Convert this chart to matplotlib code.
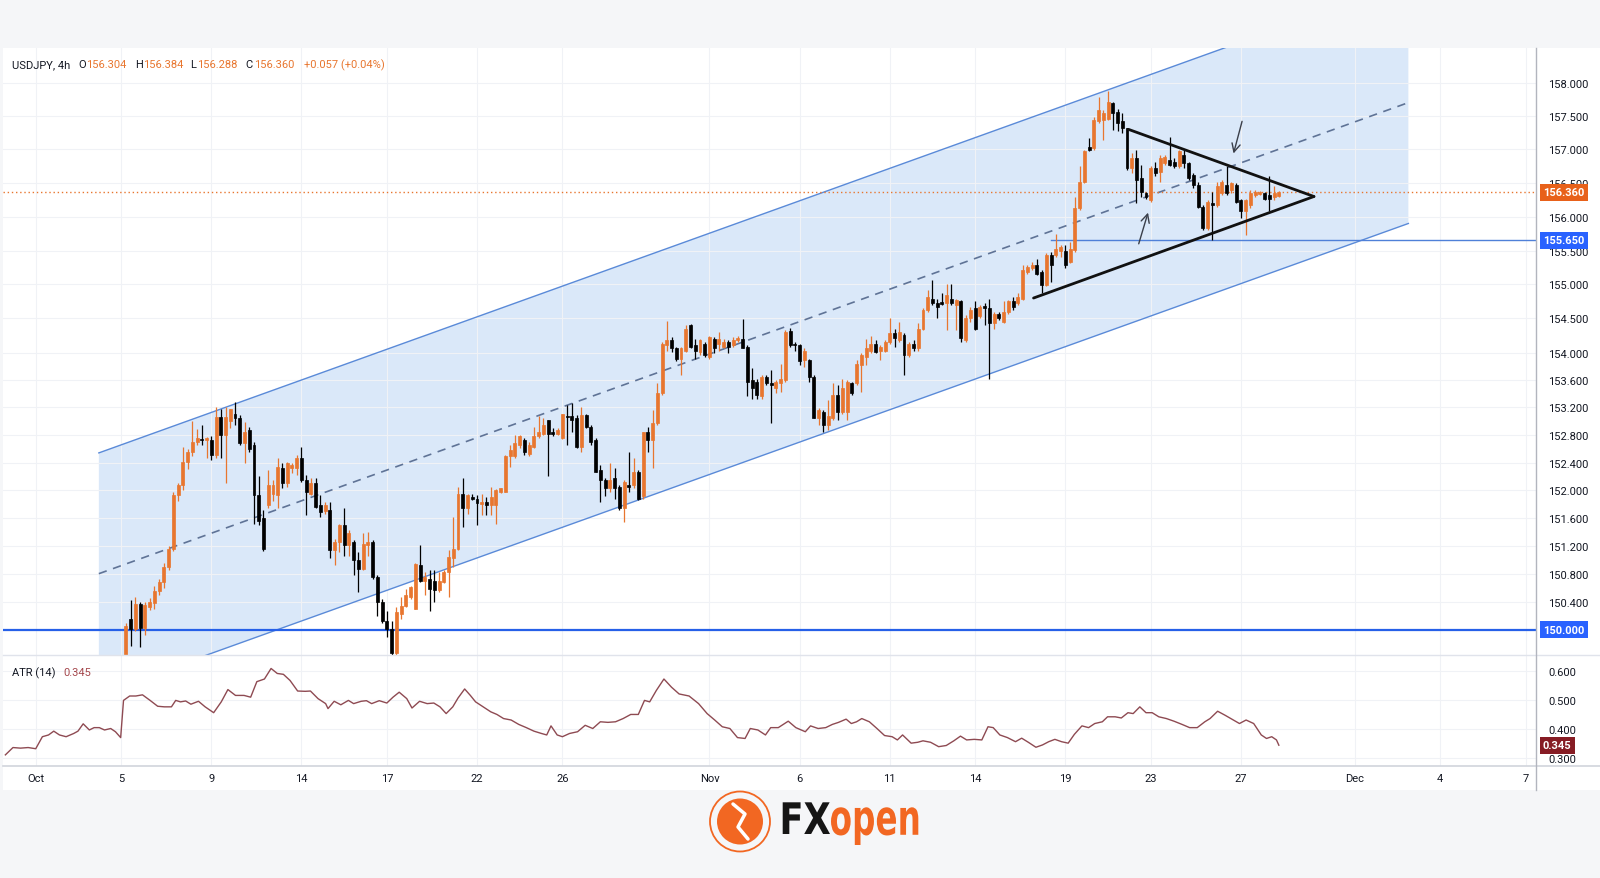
import datetime as dt
import numpy as np
import matplotlib
matplotlib.use("Agg")
import matplotlib.pyplot as plt
from matplotlib.ticker import FixedLocator, NullLocator, FuncFormatter
from matplotlib.patches import Polygon, Circle, Rectangle, PathPatch
from matplotlib.lines import Line2D
from matplotlib.textpath import TextPath
from matplotlib.font_manager import FontProperties
from matplotlib.transforms import Affine2D, IdentityTransform

plt.rcParams['font.family'] = ['Roboto', 'DejaVu Sans']

# ---- data: USDJPY 4h candles, first one is the Sunday 5 Oct bar ----
first_candle = "2025-10-05 20:00"
opens = [
    149.10, 149.45, 150.15, 150.01, 150.37, 150.02, 150.33, 150.38, 150.55, 150.68,
    150.90, 151.16, 151.93, 152.08, 152.41, 152.56, 152.70, 152.74, 152.72, 152.73,
    152.51, 153.06, 152.80, 153.00, 153.10, 153.04, 152.68, 152.87, 152.65, 151.93,
    151.60, 151.79, 151.95, 151.93, 152.32, 152.10, 152.32, 152.32, 152.46, 152.15,
    151.95, 152.10, 151.78, 151.70, 151.71, 151.14, 151.26, 151.50, 151.21, 151.26,
    150.99, 150.87, 151.21, 151.26, 150.75, 150.39, 150.13, 150.01, 149.67, 150.22,
    150.34, 150.46, 150.30, 150.92, 150.70, 150.73, 150.70, 150.56, 150.68, 150.82,
    151.02, 151.16, 151.95, 151.74, 151.90, 151.88, 151.80, 151.83, 151.78, 151.78,
    151.98, 151.98, 152.49, 152.49, 152.66, 152.73, 152.53, 152.63, 152.78, 152.82,
    153.02, 152.85, 152.82, 152.75, 153.08, 153.07, 153.04, 152.63, 153.09, 152.92,
    152.73, 152.29, 152.15, 152.03, 152.17, 152.05, 151.74, 152.07, 152.07, 152.27,
    151.91, 152.85, 152.73, 152.97, 153.41, 154.11, 154.18, 154.06, 153.91, 154.03,
    154.40, 154.11, 154.01, 154.13, 153.94, 154.20, 154.13, 154.08, 154.16, 154.11,
    154.18, 154.20, 154.08, 153.60, 153.57, 153.36, 153.65, 153.55, 153.48, 153.55,
    153.60, 154.31, 154.13, 154.11, 153.89, 153.89, 153.65, 153.04, 153.14, 152.95,
    153.04, 153.38, 153.14, 153.14, 153.55, 153.55, 153.82, 153.94, 154.03, 154.13,
    154.03, 154.03, 154.16, 154.28, 154.18, 154.26, 153.96, 154.13, 154.06, 154.35,
    154.62, 154.79, 154.72, 154.74, 154.72, 154.79, 154.70, 154.75, 154.18, 154.50,
    154.65, 154.53, 154.69, 154.65, 154.43, 154.57, 154.45, 154.60, 154.75, 154.72,
    154.79, 155.19, 155.24, 155.28, 155.19, 154.99, 155.43, 155.43, 155.50, 155.50,
    155.33, 155.51, 156.13, 156.52, 157.04, 157.02, 157.42, 157.44, 157.46, 157.69,
    157.56, 157.42, 157.32, 156.72, 156.87, 156.57, 156.35, 156.25, 156.72, 156.67,
    156.80, 156.84, 156.82, 156.75, 156.92, 156.80, 156.62, 156.47, 156.15, 155.83,
    156.20, 156.18, 156.35, 156.47, 156.40, 156.47, 156.25, 156.08, 156.18, 156.32,
    156.34, 156.35, 156.32, 156.30, 156.304,
]
highs = [
    149.55, 150.10, 150.43, 150.47, 150.40, 150.40, 150.45, 150.63, 150.72, 150.95,
    151.20, 151.98, 152.10, 152.63, 152.60, 153.01, 152.89, 152.94, 152.77, 152.78,
    153.21, 153.18, 153.21, 153.18, 153.28, 153.09, 152.99, 152.92, 152.70, 152.20,
    151.72, 152.29, 152.15, 152.46, 152.39, 152.41, 152.40, 152.51, 152.63, 152.22,
    152.17, 152.17, 151.93, 151.83, 151.83, 151.30, 151.52, 151.74, 151.42, 151.28,
    151.11, 151.38, 151.40, 151.28, 150.78, 150.44, 150.27, 150.13, 150.32, 150.46,
    150.58, 150.63, 150.96, 151.21, 150.82, 150.85, 150.85, 150.82, 150.85, 151.14,
    151.62, 152.05, 152.17, 151.95, 151.95, 151.93, 151.95, 151.90, 152.05, 152.02,
    152.03, 152.51, 152.66, 152.80, 152.80, 152.75, 152.70, 152.92, 153.07, 153.04,
    153.02, 152.90, 152.90, 153.11, 153.24, 153.26, 153.09, 153.21, 153.11, 152.95,
    152.75, 152.36, 152.17, 152.39, 152.32, 152.07, 152.15, 152.56, 152.46, 152.29,
    152.85, 152.92, 153.16, 153.55, 154.16, 154.47, 154.23, 154.08, 154.08, 154.40,
    154.42, 154.20, 154.20, 154.16, 154.25, 154.23, 154.30, 154.20, 154.18, 154.23,
    154.25, 154.49, 154.11, 153.77, 153.62, 153.67, 153.67, 153.74, 153.60, 153.84,
    154.33, 154.36, 154.16, 154.13, 154.06, 153.91, 153.67, 153.19, 153.16, 153.31,
    153.55, 153.53, 153.62, 153.60, 153.57, 153.89, 153.99, 154.20, 154.25, 154.18,
    154.11, 154.18, 154.50, 154.35, 154.45, 154.28, 154.16, 154.18, 154.43, 154.65,
    154.92, 155.06, 154.79, 154.87, 155.01, 155.01, 154.79, 154.77, 154.55, 154.67,
    154.75, 154.70, 154.72, 154.79, 154.60, 154.60, 154.75, 154.77, 154.82, 154.87,
    155.28, 155.28, 155.33, 155.38, 155.21, 155.46, 155.48, 155.75, 155.58, 155.58,
    155.63, 156.30, 156.75, 156.99, 157.17, 157.49, 157.79, 157.59, 157.87, 157.71,
    157.61, 157.54, 157.32, 156.94, 156.99, 156.77, 156.37, 156.75, 156.82, 156.92,
    156.92, 157.19, 156.87, 156.99, 156.99, 156.82, 156.65, 156.52, 156.18, 156.25,
    156.37, 156.52, 156.55, 156.76, 156.52, 156.50, 156.27, 156.27, 156.40, 156.40,
    156.38, 156.37, 156.60, 156.45, 156.384,
]
lows = [
    148.95, 149.40, 149.77, 149.98, 149.75, 149.93, 150.28, 150.30, 150.50, 150.60,
    150.85, 151.12, 151.85, 152.00, 152.30, 152.50, 152.65, 152.65, 152.46, 152.44,
    152.46, 152.46, 152.10, 152.90, 152.94, 152.65, 152.39, 152.56, 151.52, 151.50,
    151.12, 151.74, 151.85, 151.74, 152.03, 152.05, 152.25, 152.22, 152.12, 151.64,
    151.93, 151.74, 151.62, 151.66, 151.02, 150.92, 151.11, 151.06, 151.06, 150.78,
    150.54, 150.85, 151.06, 150.73, 150.20, 150.10, 149.89, 149.62, 149.62, 150.15,
    150.32, 150.44, 150.30, 150.68, 150.49, 150.27, 150.39, 150.54, 150.66, 150.46,
    150.90, 151.14, 151.47, 151.66, 151.86, 151.50, 151.64, 151.64, 151.64, 151.52,
    151.96, 151.98, 152.34, 152.46, 152.61, 152.51, 152.49, 152.61, 152.75, 152.80,
    152.20, 152.78, 152.80, 152.74, 152.66, 152.85, 152.61, 152.56, 152.90, 152.66,
    152.27, 151.83, 151.91, 151.98, 151.88, 151.71, 151.54, 151.98, 152.03, 151.86,
    151.88, 152.56, 152.32, 152.95, 153.38, 154.03, 154.01, 153.87, 153.67, 154.01,
    154.06, 153.91, 153.96, 153.94, 153.91, 153.99, 154.03, 154.06, 153.99, 154.08,
    154.16, 154.06, 153.36, 153.33, 153.33, 153.33, 153.53, 152.97, 153.41, 153.43,
    153.57, 154.08, 154.03, 153.82, 153.79, 153.57, 153.04, 152.95, 152.85, 152.87,
    153.02, 153.02, 153.11, 153.02, 153.38, 153.53, 153.43, 153.82, 153.99, 153.99,
    153.89, 154.01, 154.13, 154.08, 154.16, 153.67, 153.94, 154.03, 154.03, 154.33,
    154.60, 154.70, 154.50, 154.70, 154.33, 154.70, 154.33, 154.16, 154.16, 154.45,
    154.33, 154.50, 154.40, 153.62, 154.35, 154.48, 154.43, 154.57, 154.62, 154.70,
    154.77, 155.16, 155.21, 155.14, 154.87, 154.97, 155.04, 155.41, 155.41, 155.24,
    155.31, 155.48, 156.10, 156.50, 156.97, 156.99, 157.39, 157.14, 157.44, 157.29,
    157.27, 157.24, 156.70, 156.65, 156.20, 156.30, 156.27, 156.22, 156.60, 156.52,
    156.77, 156.75, 156.72, 156.72, 156.72, 156.55, 156.42, 156.13, 155.80, 155.80,
    155.65, 156.15, 156.32, 156.32, 156.35, 156.20, 155.98, 155.73, 156.13, 156.30,
    156.32, 156.25, 156.08, 156.25, 156.288,
]
closes = [
    149.45, 150.05, 150.01, 150.37, 150.02, 150.35, 150.40, 150.55, 150.68, 150.90,
    151.16, 151.93, 152.08, 152.41, 152.56, 152.70, 152.75, 152.72, 152.75, 152.51,
    153.06, 152.80, 153.06, 153.18, 153.05, 152.68, 152.85, 152.60, 151.93, 151.55,
    151.15, 152.08, 152.08, 152.34, 152.10, 152.39, 152.37, 152.46, 152.15, 151.98,
    152.10, 151.76, 151.69, 151.78, 151.14, 151.26, 151.50, 151.21, 151.38, 150.99,
    150.87, 151.23, 151.26, 150.75, 150.39, 150.13, 150.01, 149.67, 150.25, 150.34,
    150.49, 150.61, 150.94, 150.70, 150.75, 150.58, 150.56, 150.70, 150.82, 151.04,
    151.16, 151.95, 151.74, 151.93, 151.88, 151.81, 151.83, 151.78, 151.90, 152.00,
    152.03, 152.49, 152.58, 152.68, 152.78, 152.56, 152.66, 152.78, 152.85, 152.95,
    152.82, 152.82, 152.87, 153.10, 153.06, 153.02, 152.63, 153.09, 152.92, 152.70,
    152.27, 152.15, 152.03, 152.15, 152.03, 151.74, 152.12, 152.05, 152.27, 151.88,
    152.85, 152.73, 152.97, 153.41, 154.13, 154.18, 154.06, 153.91, 154.06, 154.35,
    154.08, 154.03, 154.18, 153.96, 154.23, 154.06, 154.20, 154.16, 154.08, 154.18,
    154.21, 154.07, 153.57, 153.48, 153.38, 153.65, 153.55, 153.53, 153.57, 153.62,
    154.30, 154.11, 154.11, 153.87, 154.03, 153.65, 153.04, 153.16, 152.95, 153.07,
    153.38, 153.14, 153.48, 153.57, 153.41, 153.84, 153.96, 154.06, 154.13, 154.01,
    154.08, 154.16, 154.28, 154.21, 154.30, 153.96, 154.13, 154.06, 154.35, 154.62,
    154.82, 154.72, 154.67, 154.71, 154.84, 154.72, 154.77, 154.21, 154.50, 154.62,
    154.35, 154.67, 154.66, 154.43, 154.57, 154.50, 154.60, 154.75, 154.67, 154.82,
    155.21, 155.26, 155.28, 155.16, 154.99, 155.43, 155.28, 155.53, 155.55, 155.28,
    155.53, 156.13, 156.52, 156.97, 156.99, 157.44, 157.59, 157.54, 157.71, 157.54,
    157.39, 157.32, 156.72, 156.87, 156.55, 156.37, 156.30, 156.72, 156.65, 156.87,
    156.89, 156.77, 156.75, 156.97, 156.80, 156.57, 156.47, 156.15, 155.83, 156.22,
    156.18, 156.45, 156.52, 156.35, 156.50, 156.22, 156.08, 156.25, 156.35, 156.37,
    156.36, 156.27, 156.27, 156.35, 156.360,
]

# ATR(14): bar number (0 = 1 Oct 00:00) and value
atr_bar = [
    -6.4, -4.8, -3.2, -1.6, 0.0, 1.4, 2.7, 3.8, 5.0, 6.4, 8.0, 8.9, 10.0, 11.3, 12.3,
    13.4, 14.5, 15.8, 16.8, 17.9, 18.5, 19.8, 21.1, 22.5, 24.1, 25.7, 27.1, 28.6, 29.5, 30.5,
    31.6, 32.7, 34.3, 35.7, 37.5, 39.1, 40.5, 42.1, 43.9, 45.3, 46.6, 48.2, 49.6, 50.9, 52.2,
    53.6, 55.2, 56.8, 57.9, 59.5, 61.1, 61.6, 62.9, 64.3, 65.9, 67.0, 68.6, 69.7, 70.8, 72.4,
    74.0, 75.3, 76.6, 78.2, 79.3, 80.9, 82.5, 83.9, 85.2, 86.5, 87.9, 89.0, 90.4, 91.6, 92.7,
    94.3, 95.9, 97.2, 98.6, 100.2, 101.8, 103.4, 105.0, 106.6, 107.7, 108.6, 109.9, 111.0, 112.5, 114.2,
    115.8, 117.4, 119.0, 120.6, 122.2, 123.8, 125.4, 127.0, 128.3, 129.4, 130.8, 132.4, 134.0, 135.6, 137.7,
    139.7, 141.5, 143.1, 144.7, 146.3, 147.9, 149.5, 150.6, 152.2, 153.8, 154.9, 156.5, 158.6, 160.2,
    162.2, 163.3, 164.9, 166.5, 167.9, 169.2, 170.8, 171.9, 173.0, 174.1, 175.7, 177.3, 178.9, 180.5, 181.6,
    182.7, 184.5, 185.9, 187.0, 188.6, 190.3, 191.9, 193.5, 194.9, 196.2, 197.8, 199.4, 200.7, 201.8, 203.2,
    204.8, 206.5, 207.8, 209.2, 210.8, 212.2, 213.5, 214.8, 216.2, 217.6, 218.9, 220.5, 221.9, 223.2, 224.8,
    225.9, 227.5, 228.8, 230.2, 231.3, 232.7, 234.0, 235.3, 236.7, 238.3, 239.9, 241.6, 243.2, 244.8, 246.4,
    247.5, 249.1, 250.7, 252.4, 253.7, 255.1, 256.7, 258.3, 259.4, 260.5, 261.5, 262.0,
]
atr_val = [
    0.312, 0.337, 0.335, 0.337, 0.333, 0.374, 0.380, 0.393, 0.380, 0.374, 0.385, 0.393, 0.418, 0.397, 0.405,
    0.405, 0.397, 0.402, 0.391, 0.371, 0.498, 0.513, 0.513, 0.517, 0.498, 0.478, 0.476, 0.476, 0.498, 0.493,
    0.496, 0.485, 0.495, 0.476, 0.456, 0.493, 0.535, 0.515, 0.515, 0.509, 0.562, 0.571, 0.607, 0.590, 0.587,
    0.566, 0.530, 0.529, 0.530, 0.504, 0.487, 0.470, 0.495, 0.483, 0.498, 0.487, 0.495, 0.497, 0.487, 0.497,
    0.489, 0.509, 0.526, 0.504, 0.472, 0.495, 0.487, 0.489, 0.476, 0.453, 0.476, 0.506, 0.537, 0.515, 0.493,
    0.476, 0.459, 0.450, 0.436, 0.431, 0.416, 0.405, 0.393, 0.385, 0.380, 0.411, 0.380, 0.374, 0.385, 0.391,
    0.413, 0.402, 0.425, 0.423, 0.425, 0.436, 0.450, 0.450, 0.498, 0.493, 0.532, 0.571, 0.543, 0.520, 0.513,
    0.487, 0.453, 0.431, 0.408, 0.402, 0.371, 0.368, 0.402, 0.397, 0.380, 0.405, 0.405, 0.427, 0.405,
    0.391, 0.411, 0.402, 0.405, 0.416, 0.423, 0.434, 0.419, 0.425, 0.436, 0.425, 0.402, 0.378, 0.374, 0.363,
    0.380, 0.352, 0.355, 0.360, 0.355, 0.340, 0.344, 0.360, 0.376, 0.363, 0.365, 0.363, 0.408, 0.405, 0.380,
    0.371, 0.357, 0.369, 0.355, 0.338, 0.346, 0.357, 0.365, 0.357, 0.352, 0.382, 0.411, 0.405, 0.419, 0.425,
    0.442, 0.442, 0.438, 0.456, 0.453, 0.476, 0.456, 0.456, 0.442, 0.436, 0.427, 0.416, 0.405, 0.405, 0.425,
    0.436, 0.461, 0.447, 0.431, 0.419, 0.431, 0.419, 0.380, 0.368, 0.374, 0.363, 0.345,
]

price_ticks = [150.0, 150.4, 150.8, 151.2, 151.6, 152.0, 152.4, 152.8, 153.2, 153.6,
               154.0, 154.5, 155.0, 155.5, 156.0, 156.5, 157.0, 157.5, 158.0]
atr_ticks = [0.3, 0.4, 0.5, 0.6]
time_tick_dates = ["2025-10-01", "2025-10-05", "2025-10-09", "2025-10-14", "2025-10-17",
                   "2025-10-22", "2025-10-26", "2025-11-02", "2025-11-06", "2025-11-11",
                   "2025-11-14", "2025-11-19", "2025-11-23", "2025-11-27", "2025-12-01",
                   "2025-12-04", "2025-12-07"]
time_tick_text = ["Oct", "5", "9", "14", "17", "22", "26", "Nov", "6", "11",
                  "14", "19", "23", "27", "Dec", "4", "7"]

# drawings (bar number, price)
channel_x = [13.3, 289.3]
channel_upper = [152.54, 159.52]
channel_lower = [149.09, 155.90]
channel_mid = [150.80, 157.70]
tri_upper = [(230.3, 157.30), (269.4, 156.30)]
tri_lower = [(210.3, 154.80), (269.4, 156.30)]
arrow_down = [(254.4, 157.46), (252.3, 156.90)]
arrow_up = [(232.3, 155.56), (234.6, 156.10)]
support_level = 155.650
support_start = 214.0
round_level = 150.000
last_price = 156.360
last_atr = 0.345

# ---- calendar: fx 4h session bars, one bar on Sunday, none on Saturday ----
last_real = dt.datetime(2025, 11, 28, 8)
times = []
t = dt.datetime(2025, 9, 29, 0)
while t <= dt.datetime(2025, 12, 12):
    wd = t.weekday()
    if t > last_real or wd < 5 or (wd == 6 and t.hour == 20):
        times.append(t)
    t += dt.timedelta(hours=4)
origin = times.index(dt.datetime(2025, 10, 1))


def bar_no(stamp):
    return times.index(stamp) - origin


def first_bar_of(day):
    d = dt.date.fromisoformat(day)
    for i, tt in enumerate(times):
        if tt.date() == d:
            return i - origin


W, H = 1600, 879
ORANGE = '#e8762f'
DARK = '#131722'
GRID = '#f0f2f6'

fig = plt.figure(figsize=(W / 100, H / 100), dpi=100, facecolor='#f5f6f8')
fig.add_artist(Rectangle((3 / W, 1 - 791 / H), (W - 3) / W, (791 - 49) / H,
                         transform=fig.transFigure, fc='white', ec='none', zorder=0))

ax = fig.add_axes([3 / W, 1 - 656 / H, 1533 / W, 607 / H])
ax2 = fig.add_axes([3 / W, 1 - 767 / H, 1533 / W, 111 / H], sharex=ax)
for a in (ax, ax2):
    a.set_facecolor('none')
    for s in a.spines.values():
        s.set_visible(False)

xt = [first_bar_of(d) for d in time_tick_dates]

# main pane (the 150.000 level carries its own tag instead of a plain label)
ax.set_yscale('log')
ax.set_xlim(-6.9, 316.2)
ax.set_ylim(149.64, 158.52)
ax.yaxis.set_major_locator(FixedLocator(price_ticks))
ax.yaxis.set_minor_locator(NullLocator())
ax.yaxis.set_major_formatter(FuncFormatter(lambda v, p: "" if abs(v - round_level) < 1e-6 else f"{v:.3f}"))
ax.yaxis.tick_right()
ax.tick_params(axis='y', length=0, pad=9, labelsize=8, labelcolor=DARK)
ax.tick_params(axis='x', length=0, labelbottom=False)
ax.set_xticks(xt)
ax.grid(True, color=GRID, lw=0.8, zorder=0)

# channel
cx0, cx1 = channel_x
ax.add_patch(Polygon([(cx0, channel_lower[0]), (cx1, channel_lower[1]),
                      (cx1, channel_upper[1]), (cx0, channel_upper[0])],
                     closed=True, fc='#4a90e2', alpha=0.2, ec='none', zorder=1))
ax.plot(channel_x, channel_upper, color='#5a8ad8', lw=1, zorder=2)
ax.plot(channel_x, channel_lower, color='#5a8ad8', lw=1, zorder=2)
ax.plot(channel_x, channel_mid, color='#5f7396', lw=1.2, ls=(0, (5, 4)), zorder=2)

# horizontal levels
ax.axhline(round_level, color='#2660e8', lw=1.6, zorder=2)
ax.plot([support_start, 330], [support_level, support_level], color='#4f80d8', lw=1, zorder=2)
ax.axhline(last_price, color=ORANGE, lw=1, ls=(0, (1, 2)), zorder=2)

# candles
x0 = bar_no(dt.datetime.fromisoformat(first_candle))
o = np.array(opens)
hi = np.array(highs)
lo = np.array(lows)
c = np.array(closes)
xc = np.arange(len(o)) + x0
cols = [ORANGE if cc >= oo else '#000000' for oo, cc in zip(o, c)]
ax.vlines(xc, lo, hi, colors=cols, lw=0.9, zorder=3)
ax.bar(xc, c - o, bottom=o, width=0.62, color=cols, edgecolor=cols, linewidth=0.5, zorder=4)

# triangle and arrows
for seg in (tri_upper, tri_lower):
    ax.plot([seg[0][0], seg[1][0]], [seg[0][1], seg[1][1]], color='#111111', lw=2, zorder=5,
            solid_capstyle='round')
for seg in (arrow_down, arrow_up):
    ax.annotate('', xy=seg[1], xytext=seg[0],
                arrowprops=dict(arrowstyle='->,head_length=0.6,head_width=0.3', color='#3a3f4a', lw=1),
                zorder=6)


def tag(axis, value, text, color):
    axis.annotate(text, xy=(1, value), xycoords=('axes fraction', 'data'),
                  xytext=(5, 0), textcoords='offset points', ha='left', va='center',
                  fontsize=8, color='white', fontweight='bold',
                  bbox=dict(boxstyle='square,pad=0.3', fc=color, ec='none'),
                  annotation_clip=False, zorder=10)


tag(ax, last_price, f"{last_price:.3f}", '#e8611a')
tag(ax, support_level, f"{support_level:.3f}", '#2962ff')
tag(ax, round_level, f"{round_level:.3f}", '#2962ff')

# ATR pane
ax2.plot(atr_bar, atr_val, color='#8e4a52', lw=1, zorder=3)
ax2.set_ylim(0.274, 0.653)
ax2.yaxis.set_major_locator(FixedLocator(atr_ticks))
ax2.yaxis.set_major_formatter(FuncFormatter(lambda v, p: f"{v:.3f}"))
ax2.yaxis.tick_right()
ax2.tick_params(axis='y', length=0, pad=9, labelsize=8, labelcolor=DARK)
ax2.set_xticks(xt)
ax2.set_xticklabels(time_tick_text)
ax2.tick_params(axis='x', length=0, pad=5, labelsize=8, labelcolor=DARK)
ax2.grid(True, color=GRID, lw=0.8, zorder=0)
tag(ax2, last_atr, f"{last_atr:.3f}", '#861c24')

# pane separators and price scale border
fig.add_artist(Line2D([3 / W, 1], [1 - 656 / H] * 2, transform=fig.transFigure, color='#e0e3eb', lw=1))
fig.add_artist(Line2D([3 / W, 1], [1 - 767 / H] * 2, transform=fig.transFigure, color='#d1d4dc', lw=1.2))
fig.add_artist(Line2D([1536 / W] * 2, [1 - 49 / H, 1 - 791 / H], transform=fig.transFigure,
                      color='#b2b5be', lw=1))

# legend lines
legend = [("USDJPY, 4h", 11.7, DARK), ("O", 78.3, DARK), ("156.304", 86.0, ORANGE),
          ("H", 135.0, DARK), ("156.384", 142.7, ORANGE), ("L", 190.3, DARK),
          ("156.288", 197.3, ORANGE), ("C", 245.3, DARK), ("156.360", 254.0, ORANGE),
          ("+0.057 (+0.04%)", 304.0, ORANGE)]
for txt, px, col in legend:
    fig.text(px / W, 1 - 65 / H, txt, color=col, fontsize=8, va='center', ha='left')
fig.text(11.7 / W, 1 - 673 / H, "ATR (14)", color=DARK, fontsize=8, va='center', ha='left')
fig.text(63 / W, 1 - 673 / H, "0.345", color='#a4474c', fontsize=8, va='center', ha='left')

# FXopen logo
LOGO = '#f26722'
fig.add_artist(Circle((740, H - 822.5), 30, transform=IdentityTransform(), fill=False, ec=LOGO, lw=1.3))
fig.add_artist(Circle((740, H - 822.5), 23, transform=IdentityTransform(), fc=LOGO, ec='none'))
fig.add_artist(Line2D([733, 745, 738, 748], [H - 805, H - 815, H - 828, H - 840],
                      transform=IdentityTransform(), color='white', lw=2.5, solid_capstyle='round'))


def word(text, x_left, x_right, y_top, y_bottom, color):
    tp = TextPath((0, 0), text, size=1, prop=FontProperties(family='DejaVu Sans', weight='bold'))
    b = tp.get_extents()
    sx = (x_right - x_left) / b.width
    sy = (y_bottom - y_top) / b.height
    tr = Affine2D().translate(-b.x0, -b.y0).scale(sx, sy).translate(x_left, H - y_bottom)
    fig.add_artist(PathPatch(tr.transform_path(tp), transform=IdentityTransform(), fc=color, ec='none'))


word("FX", 782.7, 830.0, 803.3, 835.0, '#151515')
word("open", 831.0, 918.3, 808.3, 846.0, LOGO)

fig.savefig("out.png", dpi=100, facecolor=fig.get_facecolor())
